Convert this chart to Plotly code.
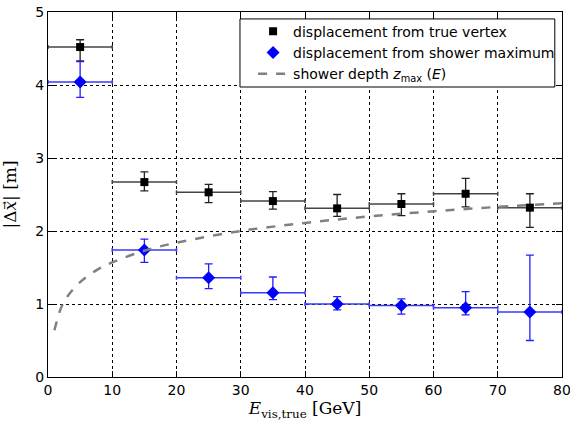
import plotly.graph_objects as go

# Energy bins (bin centres, GeV) and half-widths
energy = [5, 15, 25, 35, 45, 55, 65, 75]
bin_half = [5, 5, 5, 5, 5, 5, 5, 5]

# displacement from true vertex
vtx = [4.52, 2.67, 2.53, 2.41, 2.31, 2.37, 2.51, 2.32]
vtx_up = [0.10, 0.14, 0.11, 0.13, 0.19, 0.14, 0.21, 0.19]
vtx_dn = [0.19, 0.12, 0.14, 0.11, 0.11, 0.16, 0.18, 0.27]

# displacement from shower maximum
shw = [4.04, 1.74, 1.36, 1.155, 1.00, 0.98, 0.95, 0.89]
shw_up = [0.28, 0.15, 0.19, 0.215, 0.10, 0.09, 0.22, 0.78]
shw_dn = [0.21, 0.17, 0.15, 0.095, 0.08, 0.12, 0.10, 0.39]

# shower depth curve
depth_E = [1, 2, 3, 5, 7.5, 10, 15, 20, 30, 40, 50, 60, 70, 80]
depth_z = [0.64, 0.94, 1.10, 1.30, 1.46, 1.57, 1.73, 1.84, 2.00, 2.11, 2.20, 2.27, 2.33, 2.38]

x_ticks = [0, 10, 20, 30, 40, 50, 60, 70, 80]
y_ticks = [0, 1, 2, 3, 4, 5]

fig = go.Figure()

fig.add_trace(go.Scatter(
    x=energy, y=vtx, mode="markers",
    name="displacement from true vertex",
    marker=dict(symbol="square", size=8, color="black"),
    error_y=dict(type="data", symmetric=False, array=vtx_up, arrayminus=vtx_dn,
                 color="#222222", thickness=1.3, width=4),
    error_x=dict(type="data", array=bin_half, color="#444444", thickness=1.5, width=2),
))

fig.add_trace(go.Scatter(
    x=energy, y=shw, mode="markers",
    name="displacement from shower maximum",
    marker=dict(symbol="diamond", size=10, color="#0000ff"),
    error_y=dict(type="data", symmetric=False, array=shw_up, arrayminus=shw_dn,
                 color="#2020ff", thickness=1.3, width=4),
    error_x=dict(type="data", array=bin_half, color="#3a3aff", thickness=1.5, width=2),
))

fig.add_trace(go.Scatter(
    x=depth_E, y=depth_z, mode="lines",
    name="shower depth <i>z</i><sub>max</sub> (<i>E</i>)",
    line=dict(color="#808080", width=2.5, dash="dash", shape="spline"),
))

axis_common = dict(
    showline=True, linecolor="black", linewidth=1, mirror="allticks",
    ticks="inside", ticklen=6, tickcolor="black",
    showgrid=True, gridcolor="black", gridwidth=1, griddash="dot",
    zeroline=False, automargin=False, ticklabeloverflow="allow",
    tickfont=dict(family="DejaVu Sans", size=14, color="black"),
)

fig.update_xaxes(
    range=[0, 80], tickvals=x_ticks, ticktext=[str(v) for v in x_ticks],
    title=dict(text="<i>E</i><sub>vis,true</sub> [GeV]",
               font=dict(family="DejaVu Serif", size=17, color="black")),
    **axis_common,
)
fig.update_yaxes(
    range=[0, 5], tickvals=y_ticks, ticktext=[str(v) for v in y_ticks],
    title=dict(text="|Δ<i>x</i><span style=\"font-family:'DejaVu Sans'\">\u20d7</span>| [m]",
               font=dict(family="DejaVu Serif", size=17, color="black")),
    **axis_common,
)

# legend frame (white box with black border, drawn over the grid)
fig.add_shape(type="rect", xref="paper", yref="paper",
              x0=0.3735, x1=0.986, y0=0.7945, y1=0.981,
              line=dict(color="black", width=1), fillcolor="white", layer="above")

fig.update_layout(
    width=570, height=421,
    margin=dict(l=48, r=8, t=12, b=44),
    plot_bgcolor="white", paper_bgcolor="white",
    showlegend=True,
    legend=dict(
        x=0.399, y=0.990, xanchor="left", yanchor="top",
        bgcolor="rgba(0,0,0,0)", borderwidth=0,
        font=dict(family="DejaVu Sans", size=14, color="black"),
        tracegroupgap=0, itemwidth=30,
    ),
)

fig.write_html("out.html",
               config={"displayModeBar": False},
               post_script="document.body.style.margin='0';document.body.style.overflow='hidden';")
